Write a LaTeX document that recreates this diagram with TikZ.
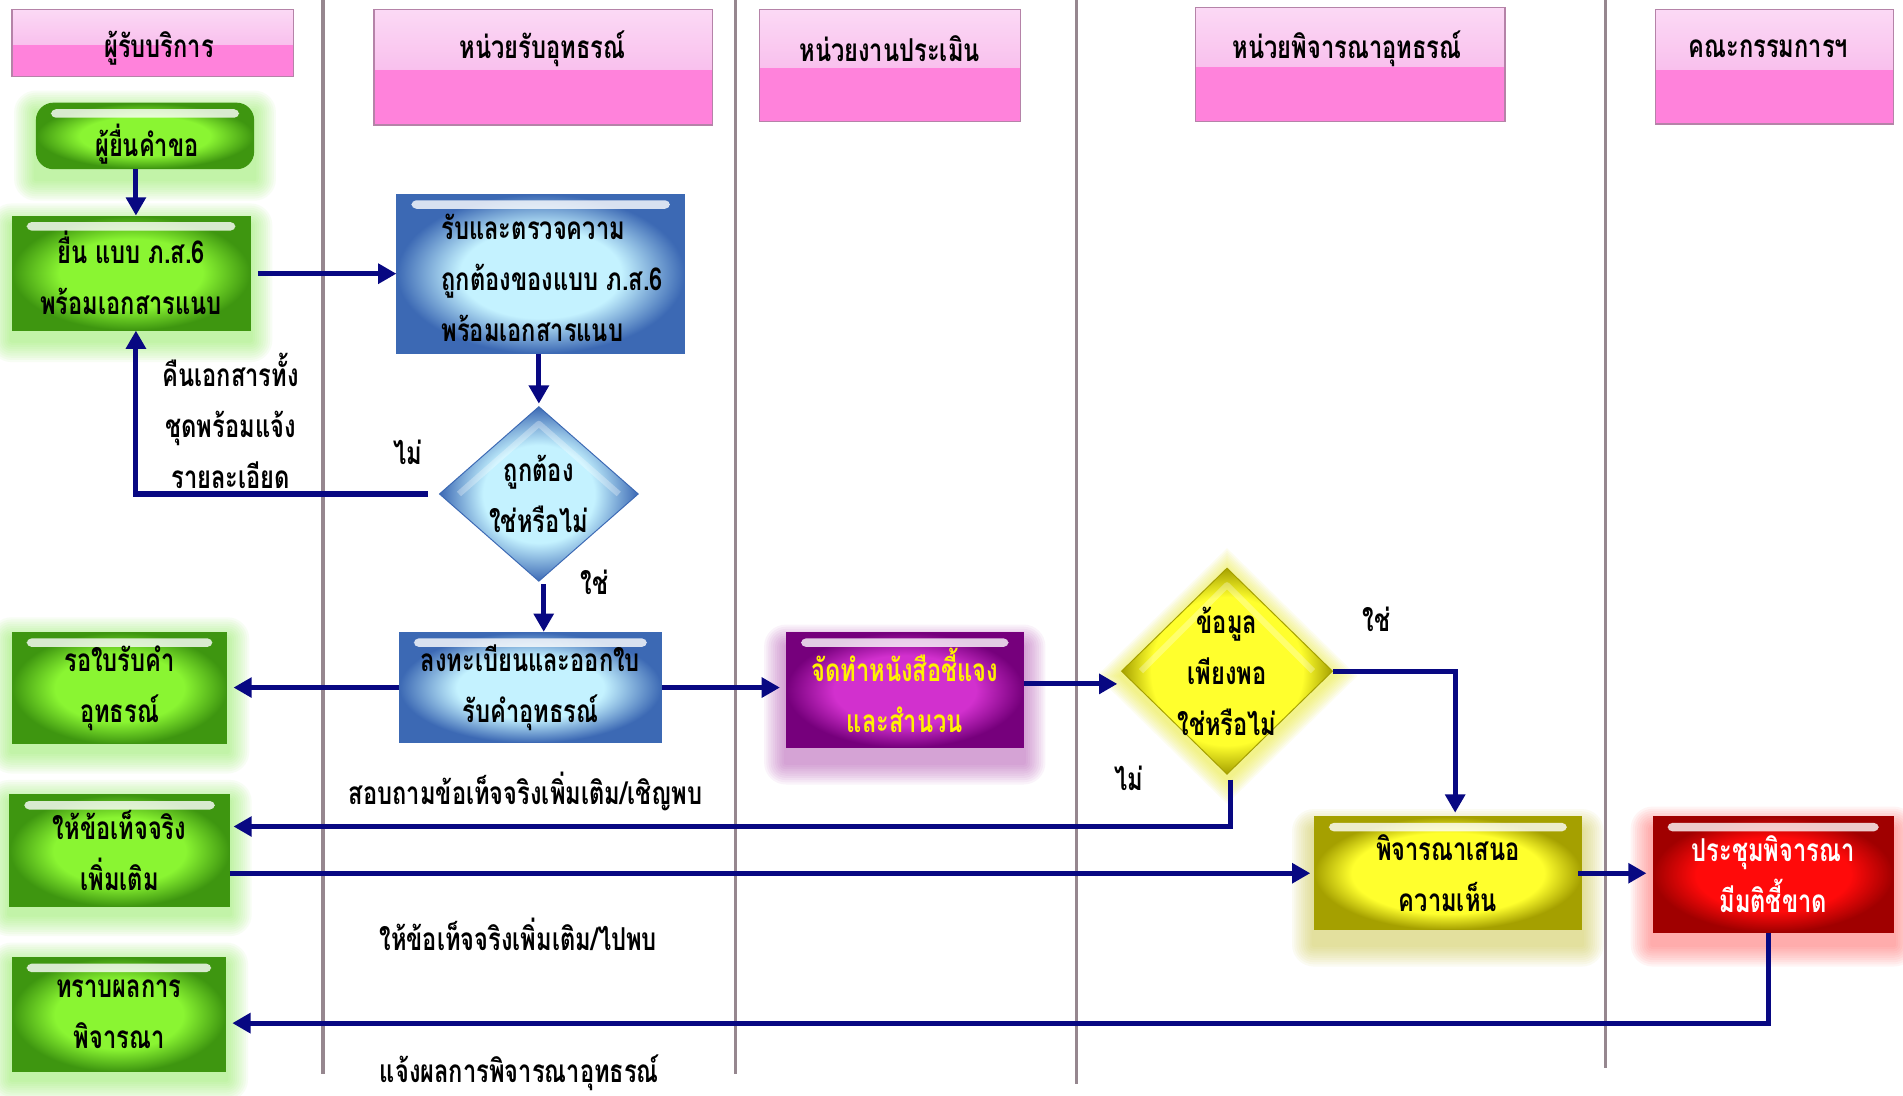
\documentclass[tikz,border=0pt]{standalone}
\usepackage{fontspec}
\newfontfamily\thai[Script=Thai, FakeStretch=0.75]{Loma}
\usetikzlibrary{arrows.meta, shapes.geometric, calc}

\definecolor{navy}{RGB}{8,8,130}
\definecolor{laneline}{RGB}{150,135,143}
\definecolor{hTop}{RGB}{251,217,245}
\definecolor{hMid}{RGB}{247,169,230}
\definecolor{hLow}{RGB}{255,130,219}
\definecolor{hEdge}{RGB}{181,131,168}
\definecolor{gIn}{RGB}{138,245,50}
\definecolor{gOut}{RGB}{62,150,16}
\definecolor{gGlow}{RGB}{130,235,70}
\definecolor{bIn}{RGB}{196,242,255}
\definecolor{bOut}{RGB}{60,105,180}
\definecolor{pIn}{RGB}{210,48,206}
\definecolor{pOut}{RGB}{118,0,124}
\definecolor{pGlow}{RGB}{170,60,170}
\definecolor{yIn}{RGB}{255,255,45}
\definecolor{yOut}{RGB}{165,160,0}
\definecolor{yGlow}{RGB}{200,195,50}
\definecolor{ydGlow}{RGB}{235,235,40}
\definecolor{rIn}{RGB}{255,10,10}
\definecolor{rOut}{RGB}{160,0,0}
\definecolor{rGlow}{RGB}{255,80,80}

% glossy fills: flat bright centre, darker rim
\pgfdeclareradialshading{glossG}{\pgfpoint{0bp}{0bp}}{color(0bp)=(gIn); color(15bp)=(gIn); color(25bp)=(gOut); color(50bp)=(gOut)}
\pgfdeclareradialshading{glossB}{\pgfpoint{0bp}{0bp}}{color(0bp)=(bIn); color(14bp)=(bIn); color(25bp)=(bOut); color(50bp)=(bOut)}
\pgfdeclareradialshading{glossP}{\pgfpoint{0bp}{0bp}}{color(0bp)=(pIn); color(15bp)=(pIn); color(25bp)=(pOut); color(50bp)=(pOut)}
\pgfdeclareradialshading{glossY}{\pgfpoint{0bp}{0bp}}{color(0bp)=(yIn); color(18bp)=(yIn); color(25bp)=(yOut); color(50bp)=(yOut)}
\pgfdeclareradialshading{glossR}{\pgfpoint{0bp}{0bp}}{color(0bp)=(rIn); color(16bp)=(rIn); color(25bp)=(rOut); color(50bp)=(rOut)}

\pgfdeclarelayer{back}
\pgfdeclarelayer{glow}
\pgfsetlayers{back,glow,main}

% soft halo behind a rectangular node: node, colour, downward drop
\newcommand\haloBox[3]{%
  \begin{pgfonlayer}{glow}
    \foreach \k in {1,...,10}{%
      \fill[#2, opacity=0.06, rounded corners={\k*1.8pt}]
        ([shift={(-\k*1.8pt,\k*1.8pt-#3)}]#1.north west) rectangle
        ([shift={(\k*1.8pt,-\k*1.8pt-#3)}]#1.south east);
    }
  \end{pgfonlayer}}
% soft halo behind a diamond node
\newcommand\haloDia[2]{%
  \begin{pgfonlayer}{glow}
    \foreach \k in {1,...,10}{%
      \fill[#2, opacity=0.07]
        ([xshift=-\k*2pt, yshift=-4pt]#1.west) -- ([yshift=\k*2pt-4pt]#1.north) --
        ([xshift=\k*2pt, yshift=-4pt]#1.east) -- ([yshift=-\k*2pt-4pt]#1.south) -- cycle;
    }
  \end{pgfonlayer}}

\tikzset{
  every node/.style={font=\thai\bfseries\fontsize{26}{42}\selectfont},
  lanehead/.style={draw=hEdge, line width=1.2pt, fill=hLow, inner sep=0pt,
    path picture={\fill[top color=hTop, bottom color=hMid]
      (path picture bounding box.north west) rectangle
      ($(path picture bounding box.north east)!0.52!(path picture bounding box.south east)$);}},
  glossy/.style 2 args={inner sep=0pt, align=center, draw=#2, line width=0.8pt,
    shading=#1,
    path picture={\fill[white, opacity=0.8, rounded corners=4pt]
      ([xshift=12pt, yshift=-5pt]path picture bounding box.north west) rectangle
      ([xshift=-12pt, yshift=-12pt]path picture bounding box.north east);}},
  greenbox/.style={glossy={glossG}{gOut}},
  bluebox/.style={glossy={glossB}{bOut}},
  purplebox/.style={glossy={glossP}{pOut}, text=yellow},
  yellowbox/.style={glossy={glossY}{yOut}},
  redbox/.style={glossy={glossR}{rOut}, text=white},
  decision/.style 2 args={diamond, inner sep=0pt, draw=#2, line width=0.8pt,
    shading=#1,
    path picture={\draw[white, opacity=0.3, line width=5pt, line join=round]
      ([xshift=16pt]path picture bounding box.west) --
      ([yshift=-14pt]path picture bounding box.north) --
      ([xshift=-16pt]path picture bounding box.east);}},
  words/.style={align=center, inner sep=0pt},
  conn/.style={draw=navy, line width=4.2pt, -{Triangle[length=15pt, width=16pt]}},
  lane/.style={draw=laneline, line width=2.8pt}
}

\begin{document}
\begin{tikzpicture}[x=1pt, y=-1pt]
\useasboundingbox (0,0) rectangle (1568,903);
\begin{pgfonlayer}{back}
  \fill[white] (0,0) rectangle (1568,903);
\end{pgfonlayer}

% lane separators
\draw[lane] (266,0) -- (266,885);
\draw[lane] (606,0) -- (606,885);
\draw[lane] (887,0) -- (887,893);
\draw[lane] (1323,0) -- (1323,880);

% lane headers
\node[lanehead, minimum width=232pt, minimum height=55pt] (h1) at (126,35.5) {};
\node[lanehead, minimum width=279pt, minimum height=95pt] (h2) at (447.5,55.5) {};
\node[lanehead, minimum width=215pt, minimum height=92pt] (h3) at (733.5,54) {};
\node[lanehead, minimum width=255pt, minimum height=94pt] (h4) at (1112.5,53) {};
\node[lanehead, minimum width=196pt, minimum height=94pt] (h5) at (1462,55) {};
\node[words] (t1) at (131,40) {ผู้รับบริการ};
\node[words] (t2) at (447,40) {หน่วยรับอุทธรณ์};
\node[words] (t3) at (733,40) {หน่วยงานประเมิน};
\node[words] (t4) at (1110,40) {หน่วยพิจารณาอุทธรณ์};
\node[words] (t5) at (1457,40) {คณะกรรมการฯ};

% process steps
\node[greenbox, rounded corners=14pt, minimum width=179pt, minimum height=54pt] (ask) at (119.5,112) {};
\node[words] (askt) at (121,119) {ผู้ยื่นคำขอ};
\node[greenbox, minimum width=196pt, minimum height=94pt] (form) at (108,225) {ยื่น แบบ ภ.ส.6\\พร้อมเอกสารแนบ};
\node[bluebox, minimum width=237pt, minimum height=131pt] (check) at (445.5,225.5) {};
\node[words, align=left] (checkt) at (455,229) {รับและตรวจความ\\ถูกต้องของแบบ ภ.ส.6\\พร้อมเอกสารแนบ};
\node[decision={glossB}{bOut}, minimum width=164pt, minimum height=144pt] (ok) at (444,407) {};
\node[words] (okt) at (ok) {ถูกต้อง\\ใช่หรือไม่};
\node[bluebox, minimum width=216pt, minimum height=91pt] (reg) at (437,566.5) {ลงทะเบียนและออกใบ\\รับคำอุทธรณ์};
\node[greenbox, minimum width=177pt, minimum height=92pt] (wait) at (98.5,567) {รอใบรับคำ\\อุทธรณ์};
\node[purplebox, minimum width=195pt, minimum height=95pt] (prep) at (745.5,568.5) {จัดทำหนังสือชี้แจง\\และสำนวน};
\node[decision={glossY}{yOut}, minimum width=174pt, minimum height=170pt] (enough) at (1011,553) {};
\node[words] (enought) at (enough) {ข้อมูล\\เพียงพอ\\ใช่หรือไม่};
\node[greenbox, minimum width=181pt, minimum height=92pt] (more) at (98.5,701) {ให้ข้อเท็จจริง\\เพิ่มเติม};
\node[yellowbox, minimum width=220pt, minimum height=93pt] (opin) at (1193,719.5) {พิจารณาเสนอ\\ความเห็น};
\node[redbox, minimum width=198pt, minimum height=95pt] (meet) at (1461,720.5) {ประชุมพิจารณา\\มีมติชี้ขาด};
\node[greenbox, minimum width=176pt, minimum height=94pt] (know) at (98,836) {ทราบผลการ\\พิจารณา};

% halos
\haloBox{ask}{gGlow}{8pt}
\haloBox{form}{gGlow}{8pt}
\haloBox{wait}{gGlow}{6pt}
\haloBox{more}{gGlow}{6pt}
\haloBox{know}{gGlow}{6pt}
\haloBox{prep}{pGlow}{12pt}
\haloBox{opin}{yGlow}{12pt}
\haloBox{meet}{rGlow}{10pt}
\haloDia{enough}{ydGlow}

% annotations
\node[words] (back) at (190,347) {คืนเอกสารทั้ง\\ชุดพร้อมแจ้ง\\รายละเอียด};
\node[words] (no1) at (336,373) {ไม่};
\node[words] (yes1) at (490,480) {ใช่};
\node[words] (yes2) at (1134,510) {ใช่};
\node[words] (no2) at (930,641) {ไม่};
\node[words] (ask2) at (433,652) {สอบถามข้อเท็จจริงเพิ่มเติม/เชิญพบ};
\node[words] (give2) at (427,770) {ให้ข้อเท็จจริงเพิ่มเติม/ไปพบ};
\node[words] (tell) at (428,884) {แจ้งผลการพิจารณาอุทธรณ์};

% connectors
\draw[conn] ([xshift=-7.5pt]ask.south) -- ([xshift=4pt]form.north);
\draw[conn, shorten <=6pt] (form.east |- check.west) -- (check.west);
\draw[conn, shorten >=2pt] (check.south -| ok.north) -- (ok.north);
\draw[conn, shorten <=9pt] (ok.west) -| ([xshift=4pt]form.south);
\draw[conn, shorten <=2pt] ([xshift=4pt]ok.south) -- ([xshift=4pt]ok.south |- reg.north);
\draw[conn, shorten >=5pt] (reg.west) -- (reg.west -| wait.east);
\draw[conn, shorten >=5pt] (reg.east) -- (reg.east -| prep.west);
\draw[conn, shorten >=3pt] ([yshift=5pt]prep.east) -- ([yshift=5pt]prep.east -| enough.west);
\draw[conn, shorten >=3pt] (enough.east) -| ([xshift=6pt]opin.north);
\draw[conn, shorten <=4pt, shorten >=3pt] ([xshift=3pt]enough.south) |- ([yshift=20pt]more.east);
\draw[conn, shorten >=3pt] (opin.west -| more.east) -- (opin.west);
\draw[conn, shorten >=5pt] ([xshift=-3pt]opin.east) -- (opin.east -| meet.west);
\draw[conn, shorten >=5pt] ([xshift=-4pt]meet.south) |- ([yshift=-7pt]know.east);
\end{tikzpicture}
\end{document}
